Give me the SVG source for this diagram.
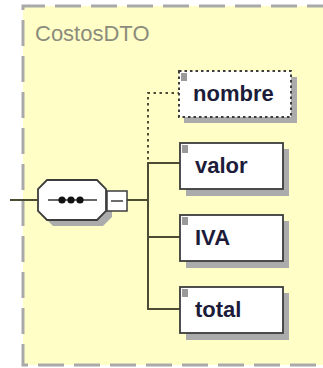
<svg xmlns="http://www.w3.org/2000/svg" width="323" height="368" viewBox="0 0 323 368">
<style>
.box{fill:#fff;stroke:#3c3c3c;stroke-width:1.8}
.shadow{fill:#ababab}
.lbl{font-family:"Liberation Sans",Arial,sans-serif;font-size:22px;font-weight:bold;fill:#1c1c3a}
.icon{fill:#9a9a9a}
.conn{stroke:#4c4c34;stroke-width:2;fill:none}
</style>
<rect x="0" y="0" width="323" height="368" fill="#ffffff"/>
<g id="CostosDTO">
<rect x="23" y="6" width="310" height="359" fill="#fffec6"/>
<path d="M333,6 H23 V365 H333" fill="none" stroke="#a9a9a9" stroke-width="3" stroke-dasharray="26 10"/>
<text x="35" y="41" font-family="'Liberation Sans',Arial,sans-serif" font-size="22" fill="#8c8c7c">CostosDTO</text>
</g>
<g id="connectors">
<line class="conn" x1="10" y1="200" x2="38" y2="200"/>
<line class="conn" x1="127" y1="200" x2="148" y2="200"/>
<path class="conn" d="M180,93 H148 V163" stroke-dasharray="2.5 3.5"/>
<path class="conn" d="M180,163 H148 V309 H180"/>
<line class="conn" x1="148" y1="237" x2="180" y2="237"/>
</g>
<g id="sequence">
<polygon class="shadow" points="53,186 103,186 112,195 112,217 103,226 53,226 44,217 44,195"/>
<polygon class="box" points="47,180 97,180 106,189 106,211 97,220 47,220 38,211 38,189"/>
<line x1="48" y1="200" x2="97" y2="200" stroke="#333" stroke-width="1.5"/>
<circle cx="62" cy="200" r="3.6" fill="#111"/>
<circle cx="71" cy="200" r="3.6" fill="#111"/>
<circle cx="80" cy="200" r="3.6" fill="#111"/>
<rect x="107" y="191" width="20" height="20" fill="#fff" stroke="#3c3c3c" stroke-width="1.5"/>
<line x1="111" y1="201" x2="123" y2="201" stroke="#3c3c3c" stroke-width="1.5"/>
</g>
<g id="nombre">
<rect class="shadow" x="184" y="77" width="113" height="46"/>
<rect x="179" y="71" width="112" height="46" fill="#fff" stroke="#3c3c3c" stroke-width="2" stroke-dasharray="2.5 3"/>
<rect class="icon" x="181" y="73" width="6" height="8"/>
<text class="lbl" x="193" y="101">nombre</text>
</g>
<g id="valor">
<rect class="shadow" x="186" y="149" width="103" height="47"/>
<rect class="box" x="180" y="143" width="103" height="46"/>
<rect class="icon" x="182" y="145" width="6" height="8"/>
<text class="lbl" x="195" y="173">valor</text>
</g>
<g id="IVA">
<rect class="shadow" x="186" y="221" width="103" height="47"/>
<rect class="box" x="180" y="215" width="103" height="46"/>
<rect class="icon" x="182" y="217" width="6" height="8"/>
<text class="lbl" x="195" y="245">IVA</text>
</g>
<g id="total">
<rect class="shadow" x="186" y="293" width="103" height="47"/>
<rect class="box" x="180" y="287" width="103" height="46"/>
<rect class="icon" x="182" y="289" width="6" height="8"/>
<text class="lbl" x="195" y="317">total</text>
</g>
</svg>
